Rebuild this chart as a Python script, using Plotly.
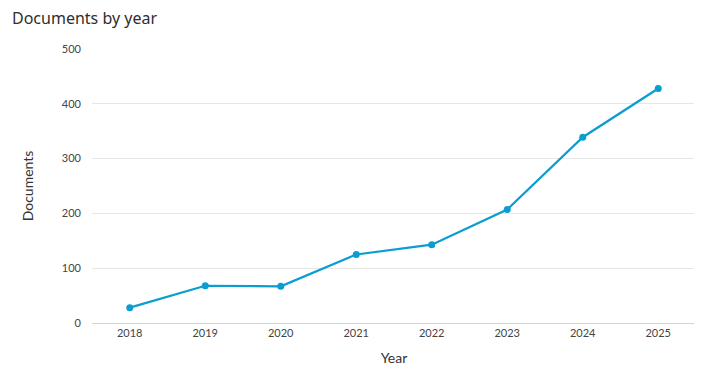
import plotly.graph_objects as go

years = ["2018", "2019", "2020", "2021", "2022", "2023", "2024", "2025"]
documents = [28, 68, 67, 125, 143, 207, 339, 428]
y_ticks = [0, 100, 200, 300, 400, 500]

# the page body has an 8px margin; the figure is sized to fill the rest of the window
W, H = 694, 361

fig = go.Figure()
fig.add_trace(go.Scatter(
    x=years, y=documents, mode="lines+markers",
    line=dict(color="#0a9dd0", width=2.2),
    marker=dict(color="#0a9dd0", size=7),
    hoverinfo="x+y", showlegend=False,
))

fig.update_layout(
    width=W, height=H,
    margin=dict(l=84, r=6, t=41, b=39),
    paper_bgcolor="white", plot_bgcolor="white",
    font=dict(family="Lato, Noto Sans, sans-serif", color="#333333"),
    title=dict(text="Documents by year",
               x=4 / W, xref="container", xanchor="left",
               y=1 - 10 / H, yref="container", yanchor="middle",
               pad=dict(t=0, l=0),
               font=dict(family="Noto Sans, sans-serif", size=16, color="#2e2e2e")),
)
fig.update_xaxes(
    type="category", range=[-0.5, 7.5],
    showgrid=False, showline=True, linecolor="#ccd6eb", linewidth=1,
    ticks="", tickfont=dict(size=11, color="#444444"),
    title=dict(text="Year", font=dict(size=14, color="#333333"), standoff=14),
    zeroline=False,
)
fig.update_yaxes(
    range=[0, 500], tickvals=y_ticks, ticktext=[str(v) for v in y_ticks],
    showgrid=True, gridcolor="#e6e6e6", gridwidth=1,
    zeroline=False, showline=False,
    tickfont=dict(size=11, color="#444444"), ticklabelstandoff=10,
    title=dict(text="Documents", font=dict(size=14, color="#333333"), standoff=24),
)
fig.write_html("out.html")
